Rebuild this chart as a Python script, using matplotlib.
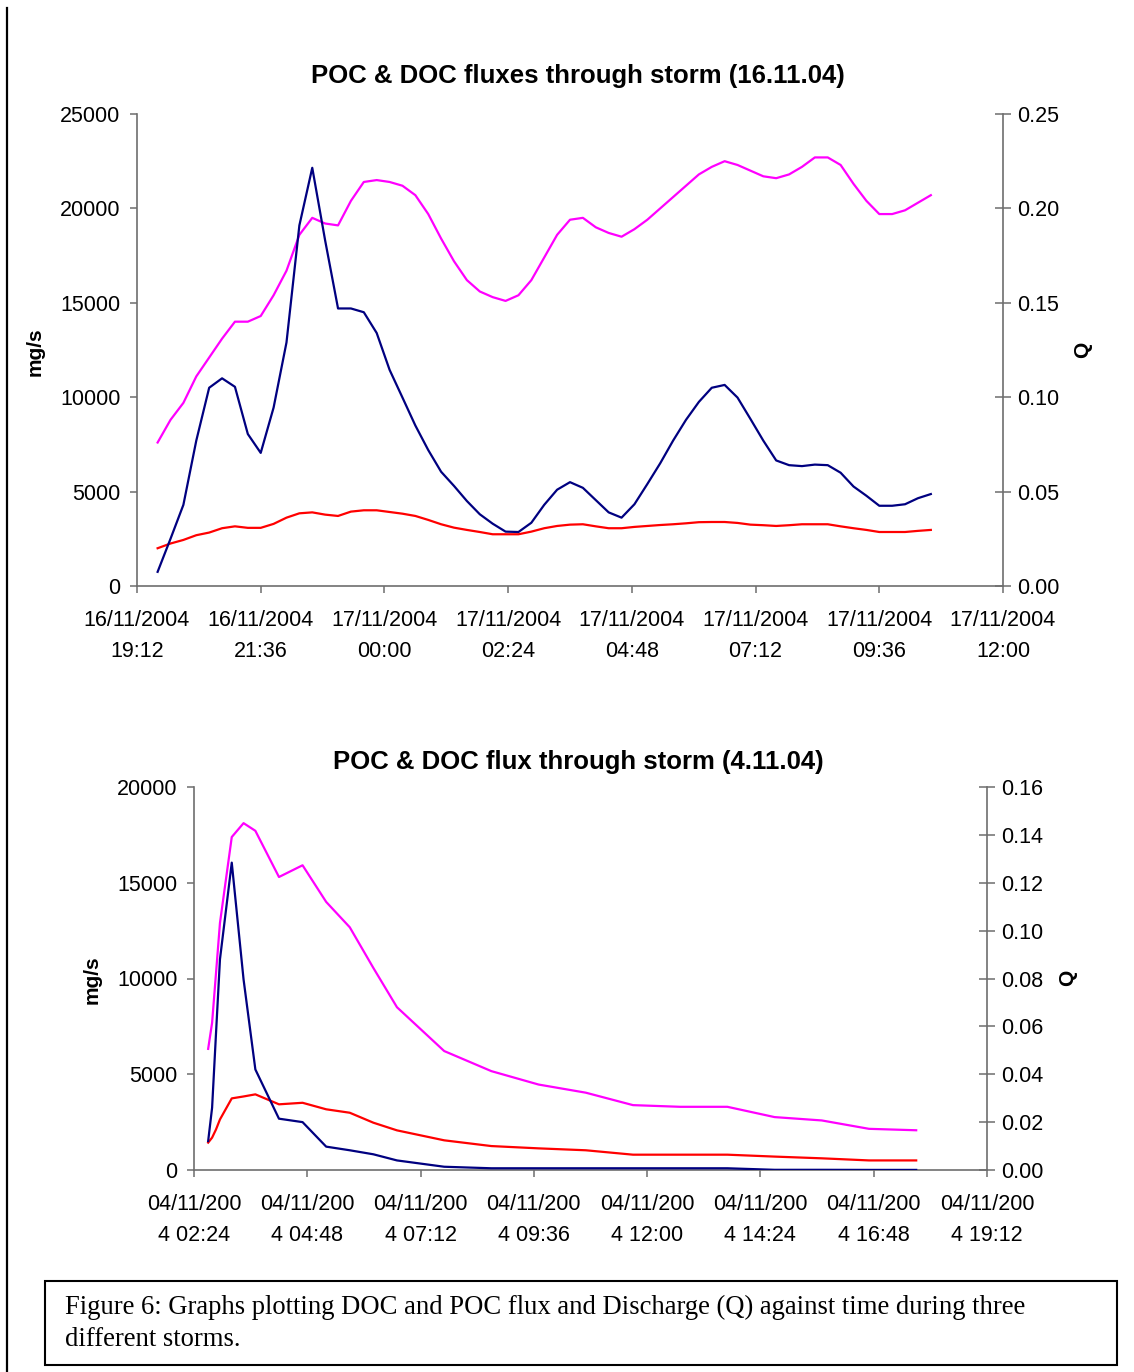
import datetime as dt
import matplotlib
matplotlib.use("Agg")
import matplotlib.pyplot as plt
import matplotlib.dates as mdates
from matplotlib.patches import Rectangle
from matplotlib.lines import Line2D

plt.rcParams['font.family'] = ['Liberation Sans', 'DejaVu Sans']

# ---- storm of 16.11.04 (15 min readings from 19:36) ----
start1 = dt.datetime(2004, 11, 16, 19, 36)
times1 = [start1 + dt.timedelta(minutes=15 * i) for i in range(61)]
poc1 = [750, 2500, 4300, 7700, 10500, 11000, 10550, 8050, 7050, 9450,
        12900, 19100, 22150, 18300, 14700, 14700, 14500, 13400, 11450, 9980,
        8500, 7200, 6050, 5300, 4500, 3800, 3300, 2880, 2860, 3350,
        4300, 5100, 5500, 5200, 4550, 3900, 3620, 4330, 5400, 6500,
        7700, 8800, 9750, 10500, 10650, 9980, 8850, 7700, 6650, 6400,
        6350, 6430, 6400, 6000, 5270, 4780, 4250, 4250, 4330, 4650,
        4870]
doc1 = [2000, 2250, 2440, 2690, 2830, 3060, 3160, 3080, 3080, 3290,
        3620, 3850, 3900, 3780, 3710, 3940, 4010, 4010, 3920, 3830,
        3710, 3500, 3270, 3090, 2970, 2860, 2740, 2740, 2740, 2880,
        3060, 3180, 3250, 3270, 3160, 3060, 3060, 3130, 3180, 3230,
        3270, 3320, 3380, 3390, 3390, 3340, 3250, 3220, 3180, 3220,
        3270, 3270, 3270, 3160, 3060, 2970, 2860, 2860, 2860, 2920,
        2970]
q1 = [0.076, 0.088, 0.097, 0.111, 0.121, 0.131, 0.140, 0.140, 0.143, 0.154,
      0.167, 0.186, 0.195, 0.192, 0.191, 0.204, 0.214, 0.215, 0.214, 0.212,
      0.207, 0.197, 0.184, 0.172, 0.162, 0.156, 0.153, 0.151, 0.154, 0.162,
      0.174, 0.186, 0.194, 0.195, 0.190, 0.187, 0.185, 0.189, 0.194, 0.200,
      0.206, 0.212, 0.218, 0.222, 0.225, 0.223, 0.220, 0.217, 0.216, 0.218,
      0.222, 0.227, 0.227, 0.223, 0.213, 0.204, 0.197, 0.197, 0.199, 0.203,
      0.207]

# ---- storm of 4.11.04 ----
clock2 = ["02:42", "02:47", "02:52", "02:57", "03:12", "03:27", "03:42", "04:12",
          "04:42", "05:12", "05:42", "06:12", "06:42", "07:42", "08:42", "09:42",
          "10:42", "11:42", "12:42", "13:42", "14:42", "15:42", "16:42", "17:42"]
poc2 = [1510, 3250, 7150, 11000, 16050, 9950, 5250, 2680,
        2500, 1220, 1030, 820, 500, 170, 90, 90,
        90, 90, 90, 90, 10, 10, 5, 5]
doc2 = [1430, 1690, 2120, 2640, 3740, 3840, 3950, 3430,
        3510, 3170, 2990, 2470, 2070, 1550, 1250, 1130,
        1030, 800, 800, 800, 700, 610, 500, 500]
q2 = [0.0506, 0.0615, 0.0823, 0.1032, 0.1391, 0.1449, 0.1417, 0.1224,
      0.1273, 0.1120, 0.1014, 0.0844, 0.0680, 0.0497, 0.0413, 0.0357,
      0.0323, 0.0271, 0.0264, 0.0264, 0.0221, 0.0207, 0.0172, 0.0166]
times2 = [dt.datetime.strptime("04/11/2004 " + c, "%d/%m/%Y %H:%M") for c in clock2]

ticks1 = [dt.datetime(2004, 11, 16, 19, 12) + dt.timedelta(minutes=144 * i) for i in range(8)]
ticks2 = [dt.datetime(2004, 11, 4, 2, 24) + dt.timedelta(minutes=144 * i) for i in range(8)]
labels1 = [t.strftime("%d/%m/%Y\n%H:%M") for t in ticks1]
labels2 = [t.strftime("%d/%m/%Y %H:%M")[:9] + "\n" + t.strftime("%d/%m/%Y %H:%M")[9:] for t in ticks2]

navy = '#000080'
magenta = '#FF00FF'
red = '#FF0000'
grey = '#6E6E6E'
W, H = 1134.0, 1372.0

fig = plt.figure(figsize=(11.34, 13.72), dpi=100)


def make_axes(left, right, top, bottom):
    ax = fig.add_axes([left / W, 1 - bottom / H, (right - left) / W, (bottom - top) / H])
    ax2 = ax.twinx()
    for a in (ax, ax2):
        a.spines['top'].set_visible(False)
        for s in a.spines.values():
            s.set_color(grey)
            s.set_linewidth(1.2)
    ax.spines['right'].set_visible(False)
    ax2.spines['left'].set_visible(False)
    ax2.spines['bottom'].set_visible(False)
    ax.tick_params(axis='y', direction='out', length=5, width=1.1, color=grey, labelsize=15.5, pad=7)
    ax.tick_params(axis='x', direction='out', length=5, width=1.1, color=grey, labelsize=15.5, pad=12)
    ax2.tick_params(axis='y', direction='inout', length=11, width=1.1, color=grey, labelsize=15.5, pad=5)
    return ax, ax2


def draw(ax, ax2, times, poc, doc, q, ticks, labels, ymax, ystep, qmax, qstep):
    ax2.plot(times, q, color=magenta, lw=1.6, zorder=2)
    ax.plot(times, doc, color=red, lw=1.6, zorder=3)
    ax.plot(times, poc, color=navy, lw=1.6, zorder=4)
    ax.set_ylim(0, ymax)
    ax.set_yticks(range(0, ymax + 1, ystep))
    ax2.set_ylim(0, qmax)
    n = int(round(qmax / qstep))
    ax2.set_yticks([qstep * i for i in range(n + 1)])
    ax2.set_yticklabels(["%.2f" % (qstep * i) for i in range(n + 1)])
    ax.set_xlim(mdates.date2num(ticks[0]), mdates.date2num(ticks[-1]))
    ax.set_xticks([mdates.date2num(t) for t in ticks])
    ax.set_xticklabels(labels, linespacing=1.62)
    ax.set_zorder(ax2.get_zorder() + 1)
    ax.patch.set_visible(False)


# top chart
axa, axa2 = make_axes(137, 1003, 114, 586)
draw(axa, axa2, times1, poc1, doc1, q1, ticks1, labels1, 25000, 5000, 0.25, 0.05)
fig.text(578 / W, 1 - 76 / H, "POC & DOC fluxes through storm (16.11.04)",
         ha='center', va='center', fontsize=18.5, fontweight='bold')
fig.text(35 / W, 1 - 352 / H, "mg/s", rotation=90, ha='center', va='center',
         fontsize=15, fontweight='bold')
fig.text(1083 / W, 1 - 350 / H, "Q", rotation=90, ha='center', va='center',
         fontsize=15, fontweight='bold')

# bottom chart
axb, axb2 = make_axes(194, 987, 787, 1170)
draw(axb, axb2, times2, poc2, doc2, q2, ticks2, labels2, 20000, 5000, 0.16, 0.02)
fig.text(578 / W, 1 - 762 / H, "POC & DOC flux through storm (4.11.04)",
         ha='center', va='center', fontsize=18.5, fontweight='bold')
fig.text(92 / W, 1 - 980 / H, "mg/s", rotation=90, ha='center', va='center',
         fontsize=15, fontweight='bold')
fig.text(1068 / W, 1 - 978 / H, "Q", rotation=90, ha='center', va='center',
         fontsize=15, fontweight='bold')

# page line on the left and caption box
fig.add_artist(Line2D([7 / W, 7 / W], [0, 1 - 8 / H], color='black', lw=1.6))
fig.add_artist(Rectangle((45 / W, 1 - 1365 / H), (1117 - 45) / W, (1365 - 1281) / H,
                         fill=False, edgecolor='black', lw=1.5))
fig.text(65 / W, 1 - 1323.5 / H,
         "Figure 6: Graphs plotting DOC and POC flux and Discharge (Q) against time during three\n"
         "different storms.",
         ha='left', va='center', fontsize=19.2, family=['Liberation Serif', 'DejaVu Serif'],
         linespacing=1.36)

fig.savefig("out.png", dpi=100)
